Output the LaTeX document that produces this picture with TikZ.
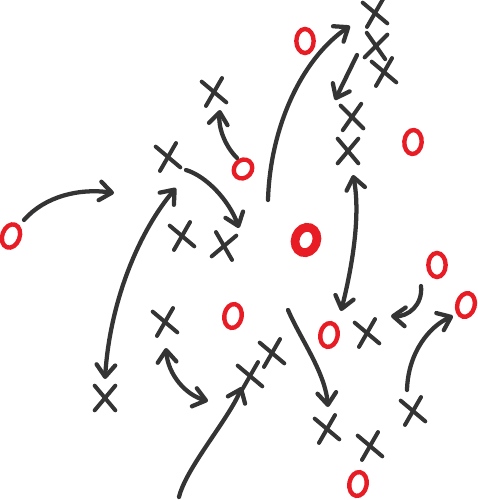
\documentclass[tikz,border=0pt]{standalone}
\usetikzlibrary{arrows.meta,shapes.misc,shapes.geometric}

\definecolor{ink}{RGB}{52,52,52}
\definecolor{marker}{RGB}{232,28,36}

\tikzset{every picture/.style={line width=0.75pt}}
\tikzset{
	xmark/.style={cross out, draw=ink, line width=3pt, line cap=round, minimum width=12.5pt, minimum height=15.5pt, inner sep=0pt},
	omark/.style={ellipse, draw=marker, line width=3.3pt, minimum width=13pt, minimum height=18pt, inner sep=0pt},
	barb/.tip={Straight Barb[length=9pt,width=14pt,line cap=round,line join=round]},
	route/.style={draw=ink, line width=3.2pt, line cap=round, -barb},
	swap/.style={route, barb-barb},
}

\begin{document}
\begin{tikzpicture}[x=0.75pt,y=0.75pt,yscale=-1,xscale=1]
	\useasboundingbox (0,0) rectangle (478,500);

	% Defence X
	\node [xmark, rotate=10] (x1) at (375,13) {};
	\node [xmark, rotate=-5] (x2) at (376,46) {};
	\node [xmark, rotate=10] (x3) at (384,72) {};
	\node [xmark, rotate=5] (x4) at (352,117) {};
	\node [xmark, rotate=0] (x5) at (348,151) {};
	\node [xmark, rotate=10] (x6) at (214,92) {};
	\node [xmark, rotate=10] (x7) at (168,157) {};
	\node [xmark, rotate=10] (x8) at (182,236) {};
	\node [xmark, rotate=-10] (x9) at (224,246) {};
	\node [xmark, rotate=10] (x10) at (165,322) {};
	\node [xmark, rotate=0] (x11) at (105,398) {};
	\node [xmark, rotate=10] (x12) at (250,376) {};
	\node [xmark, rotate=10] (x13) at (272,353) {};
	\node [xmark, rotate=10] (x14) at (367,333) {};
	\node [xmark, rotate=10] (x15) at (327,429) {};
	\node [xmark, rotate=10] (x16) at (370,446) {};
	\node [xmark, rotate=10] (x17) at (413,411) {};

	% Offence O
	\node [omark] (o1) at (305,41) {};
	\node [omark, rotate=-5] (o2) at (413,142) {};
	\node [omark, rotate=-40, minimum height=15pt] (o3) at (243,169) {};
	\node [omark, rotate=-20] (o4) at (11,236) {};
	\node [omark, rotate=-20, line width=6.5pt, minimum width=16pt, minimum height=19.5pt] (o5) at (306,240) {};
	\node [omark] (o6) at (437,265) {};
	\node [omark, rotate=-15] (o7) at (466,305) {};
	\node [omark, rotate=-10] (o8) at (233,316) {};
	\node [omark, rotate=-10] (o9) at (329,335) {};
	\node [omark, rotate=-10] (o10) at (358,484) {};

	% route ends
	\coordinate (a1) at (24,220);  \coordinate (b1) at (114,193);
	\coordinate (a2) at (237,158); \coordinate (b2) at (220,110);
	\coordinate (a3) at (186,170); \coordinate (b3) at (239,228);
	\coordinate (a4) at (105,379); \coordinate (b4) at (176,188);
	\coordinate (a5) at (268,200); \coordinate (b5) at (350,26);
	\coordinate (a6) at (357,55);  \coordinate (b6) at (335,100);
	\coordinate (a7) at (341,311); \coordinate (b7) at (353,175);
	\coordinate (a8) at (288,310); \coordinate (b8) at (328,407);
	\coordinate (a9) at (421,286); \coordinate (b9) at (391,316);
	\coordinate (a10) at (407,390); \coordinate (b10) at (453,316);
	\coordinate (a11) at (166,348); \coordinate (b11) at (208,401);
	\coordinate (a12) at (179,497); \coordinate (b12) at (242,387);

	% Routes
	\draw [route] (a1) .. controls (45,196) and (80,188) .. (b1);
	\draw [route] (a2) .. controls (224,145) and (218,126) .. (b2);
	\draw [route] (a3) .. controls (206,176) and (229,200) .. (b3);
	\draw [swap] (a4) .. controls (110,300) and (140,230) .. (b4);
	\draw [route] (a5) .. controls (270,130) and (300,60) .. (b5);
	\draw [route] (a6) -- (b6);
	\draw [swap] (a7) .. controls (352,268) and (361,215) .. (b7);
	\draw [route] (a8) .. controls (301,340) and (325,372) .. (b8);
	\draw [route] (a9) .. controls (423,305) and (408,317) .. (b9);
	\draw [route] (a10) .. controls (408,352) and (430,326) .. (b10);
	\draw [swap] (a11) .. controls (168,375) and (186,395) .. (b11);
	\draw [route] (a12) .. controls (186,468) and (228,420) .. (b12);

\end{tikzpicture}
\end{document}
